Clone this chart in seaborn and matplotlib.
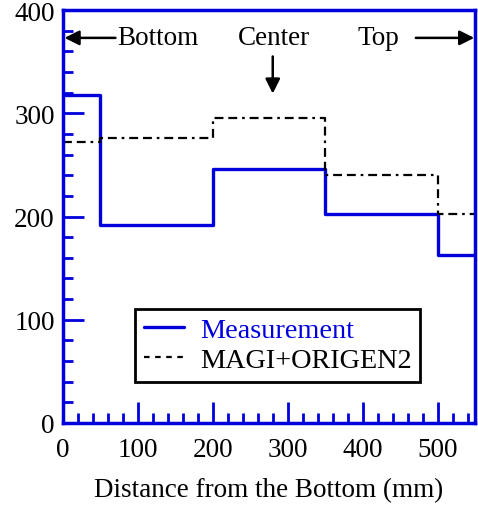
import matplotlib
matplotlib.use("Agg")
import matplotlib.pyplot as plt
import seaborn as sns
import pandas as pd
from matplotlib.ticker import MultipleLocator

# Data (step edges in mm, values)
edges = [0, 50, 200, 350, 500, 550]
measurement = [318, 192, 246, 202, 163, 163]
magi_origen2 = [272, 276, 295, 240, 202, 202]
x_ticks = [0, 100, 200, 300, 400, 500]
y_ticks = [0, 100, 200, 300, 400]

sns.set_theme(style="white")
plt.rcParams['font.family'] = ['Liberation Serif', 'DejaVu Serif']
plt.rcParams['text.color'] = 'black'
plt.rcParams['axes.labelcolor'] = 'black'
plt.rcParams['xtick.color'] = 'black'
plt.rcParams['ytick.color'] = 'black'

BLUE = '#0000dd'

fig = plt.figure(figsize=(4.78, 5.06), dpi=100)
ax = fig.add_axes([63/478, 82/506, 412/478, 413/506])

df_m = pd.DataFrame({'x': edges, 'y': measurement})
df_c = pd.DataFrame({'x': edges, 'y': magi_origen2})

sns.lineplot(data=df_m, x='x', y='y', ax=ax, color=BLUE, lw=2.4,
             drawstyle='steps-post', label='Measurement')
sns.lineplot(data=df_c, x='x', y='y', ax=ax, color='black', lw=1.6,
             drawstyle='steps-post', label='MAGI+ORIGEN2',
             dashes=False, linestyle=(0, (4, 2.2, 4, 2.2, 1.2, 2.2)))

ax.set_xlim(0, 550)
ax.set_ylim(0, 400)
ax.set_xticks(x_ticks)
ax.set_yticks(y_ticks)
ax.xaxis.set_minor_locator(MultipleLocator(20))
ax.yaxis.set_minor_locator(MultipleLocator(20))
ax.tick_params(axis='both', which='major', direction='in', length=15, width=2,
               color=BLUE, labelsize=19.5, labelcolor='black')
ax.tick_params(axis='y', which='major', pad=6)
ax.tick_params(axis='x', which='major', pad=10)
ax.tick_params(axis='both', which='minor', direction='in', length=7, width=2,
               color=BLUE)
ax.tick_params(top=False, right=False, which='both', left=True, bottom=True)
for s in ax.spines.values():
    s.set_color(BLUE)
    s.set_linewidth(2.5)

ax.set_xlabel('Distance from the Bottom (mm)', fontsize=19.5, labelpad=11,
              color='black')
ax.set_ylabel('')

# Legend
leg = ax.legend(loc='upper left', bbox_to_anchor=(0.175, 0.276), borderaxespad=0,
                fontsize=20.3, frameon=True, fancybox=False, framealpha=1,
                handlelength=1.45, handletextpad=0.55, borderpad=0.3,
                labelspacing=0.15)
leg.get_frame().set_edgecolor('black')
leg.get_frame().set_linewidth(2)
leg.get_texts()[0].set_color(BLUE)
leg.get_texts()[1].set_color('black')
leg.get_lines()[1].set_linestyle((0, (2.5, 2.5)))

# Annotations
arrow = dict(arrowstyle='-|>', color='black', lw=1.8, mutation_scale=22,
             shrinkA=0, shrinkB=0)
ax.annotate('', xy=(2, 373), xytext=(70, 373), arrowprops=arrow)
ax.text(72, 367, 'Bottom', fontsize=19.5, ha='left', va='baseline', color='black')
ax.text(282, 367, 'Center', fontsize=19.5, ha='center', va='baseline', color='black')
ax.annotate('', xy=(280, 319), xytext=(280, 355), arrowprops=arrow)
ax.text(393, 367, 'Top', fontsize=19.5, ha='left', va='baseline', color='black')
ax.annotate('', xy=(549, 373), xytext=(471, 373), arrowprops=arrow)

fig.savefig('out.png', dpi=100)
